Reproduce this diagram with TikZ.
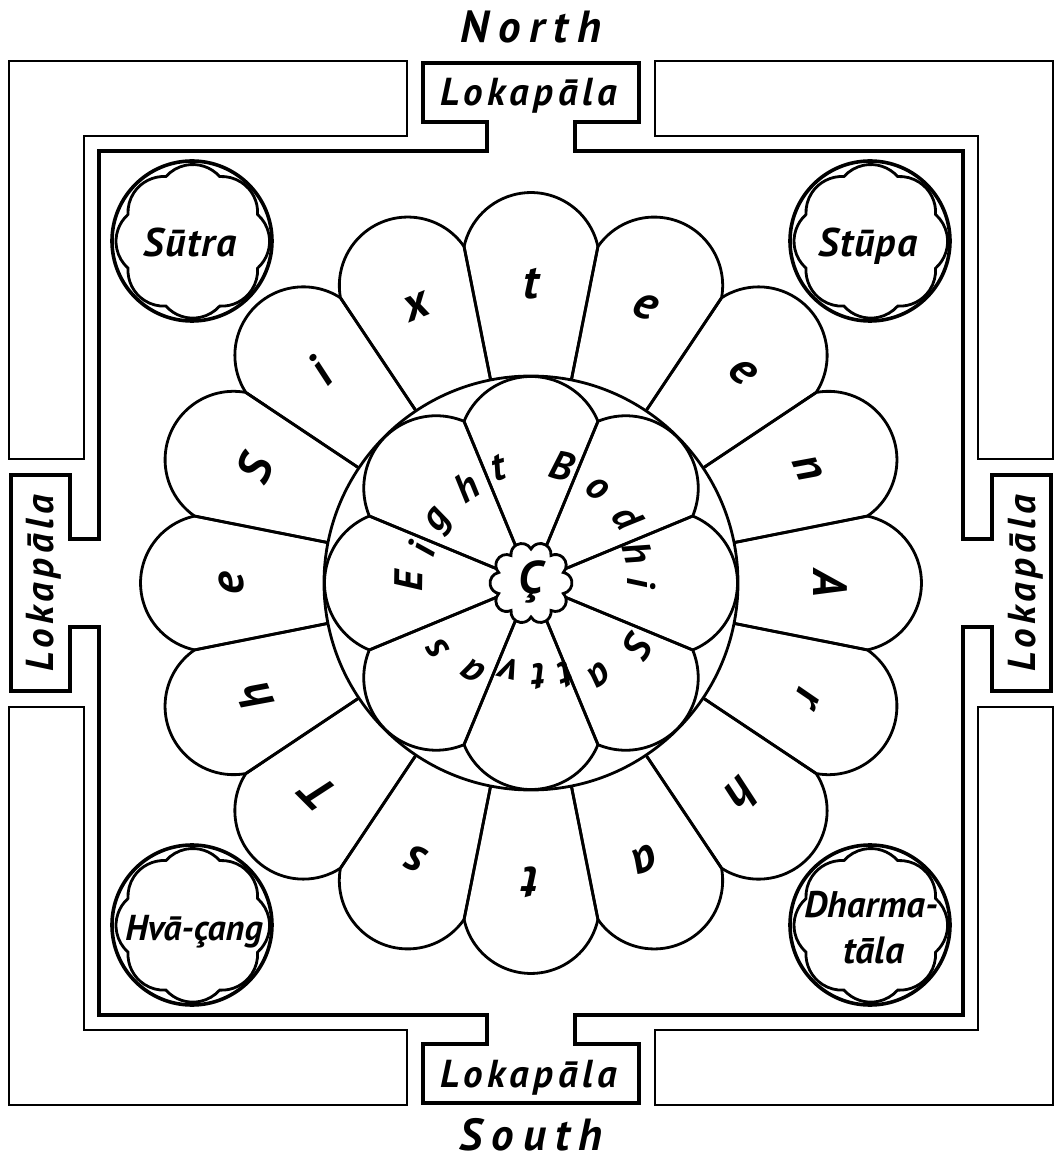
\documentclass[tikz,border=0pt]{standalone}
\usepackage{fontspec}
\setmainfont{PT Sans}
\usepackage{graphicx}
\usetikzlibrary{calc}
\newcommand\fz[1]{\fontsize{#1}{#1}\selectfont\bfseries\itshape}
\begin{document}
\begin{tikzpicture}[x=1pt,y=1pt,line join=miter,
  thickline/.style={line width=4.6pt},
  thinline/.style={line width=2.3pt},
  petal/.style={line width=2.8pt},
  ring/.style={line width=3.6pt},
  lobe/.style={line width=2.8pt},
  lbl/.style={inner sep=0pt,font=\fz{48}},
  inl/.style={inner sep=0pt,font=\fz{40}},
  loka/.style={inner sep=0pt,anchor=base,font={\fz{39}\addfontfeature{LetterSpace=12}}},
  cardinal/.style={inner sep=0pt,anchor=base,font={\fz{45}\addfontfeature{LetterSpace=20}}},
  corner/.style={inner sep=0pt,anchor=base,font={\fz{40}\addfontfeature{LetterSpace=3}}}
]
\fill[white] (-531,-578) rectangle (524,583);
\useasboundingbox (-531,-578) rectangle (524,583);

% ---------- thin L-shaped corner pieces ----------
\foreach \sx/\sy in {1/1,-1/1,1/-1,-1/-1}{
  \begin{scope}[xscale=\sx,yscale=\sy]
    \draw[thinline] (124,522) -- (124,447) -- (447,447) -- (447,124) -- (522,124) -- (522,522) -- cycle;
  \end{scope}
}

% ---------- thick inner square with the four gates ----------
\draw[thickline]
  (-432,432) -- (-44,432) -- (-44,461) -- (-108,461) -- (-108,520) -- (108,520) -- (108,461) -- (44,461) -- (44,432)
  -- (432,432) -- (432,44) -- (461,44) -- (461,108) -- (520,108) -- (520,-108) -- (461,-108) -- (461,-44) -- (432,-44)
  -- (432,-432) -- (44,-432) -- (44,-461) -- (108,-461) -- (108,-520) -- (-108,-520) -- (-108,-461) -- (-44,-461) -- (-44,-432)
  -- (-432,-432) -- (-432,-44) -- (-461,-44) -- (-461,-108) -- (-520,-108) -- (-520,108) -- (-461,108) -- (-461,44) -- (-432,44)
  -- cycle;

\node[loka] (lokN) at (-2,477) {Lokapāla};
\node[loka] (lokS) at (-2,-504) {Lokapāla};
\node[loka,rotate=90] (lokW) at (-477,0) {Lokapāla};
\node[loka,rotate=90] (lokE) at (504,0) {Lokapāla};

\node[cardinal] (north) at (0,540) {North};
\node[cardinal] (south) at (0,-567) {South};

% ---------- sixteen outer petals ----------
\foreach \k in {0,...,15}{
  \pgfmathsetmacro\t{90-22.5*\k}
  \draw[petal] (\t-11.25:207) -- (\t-11.25:343)
     arc[start angle=\t-77.85, end angle=\t+77.85, radius=68.45] -- (\t+11.25:207);
}
\draw[petal] (0,0) circle[radius=207];

% ---------- eight inner petals ----------
\foreach \k in {0,...,7}{
  \pgfmathsetmacro\t{90-45*\k}
  \draw[petal] (\t-22.5:34) -- (\t-22.5:175)
     arc[start angle=\t-67.59, end angle=\t+67.59, radius=72.44] -- (\t+22.5:34);
}

% ---------- central flower ----------
\draw[petal,fill=white] (-18:34)
  \foreach \k in {0,...,9}{ arc[start angle=\k*36-79.1, end angle=\k*36+79.1, radius=10.69] } -- cycle;
\node[inner sep=0pt,font=\fz{46}] (cc) at (0,1) {Ç};

% ---------- corner circles ----------
\foreach \cx/\cy/\nm in {-339/342/nw,339/342/ne,-339/-342/sw,339/-342/se}{
  \begin{scope}[shift={(\cx,\cy)}]
    \draw[ring] (0,0) circle[radius=80];
    \draw[lobe] (-22.5:71)
      \foreach \k in {0,...,7}{ arc[start angle=\k*45-48.2, end angle=\k*45+48.2, radius=36.0] } -- cycle;
  \end{scope}
}
\node[corner] (sutra) at (-341,326) {Sūtra};
\node[corner] (stupa) at (337,326) {Stūpa};
\node[corner,font={\fz{36}}] (hva) at (-337,-357) {Hvā-çang};
\node[corner,font={\fz{37}}] (dh1) at (340,-334) {Dharma-};
\node[corner,font={\fz{38}}] (dh2) at (343,-380) {tāla};

% ---------- outer letters ----------
\foreach \c/\a [count=\i] in {T/-135,h/-157.5,e/180,S/157.5,i/135,x/112.5,t/90,e/67.5,e/45,n/22.5,A/0,r/-22.5,h/-45,a/-67.5,t/-90,s/-112.5}{
  \node[lbl,rotate=\a-90] (o\i) at (\a:299) {\c};
}

% ---------- inner letters ----------
\foreach \c/\a/\r [count=\i] in {E/179/122,i/163/115,g/146/110,h/124/116,t/106/120,B/75/121,o/55/115,d/34/117,h/16/111,i/0/111,S/-30/124,a/-53/114,t/-69/98,t/-85/94,v/-104/89,a/-123/106,s/-145/114}{
  \node[inl,rotate=\a-90] (n\i) at (\a:\r) {\c};
}
\end{tikzpicture}
\end{document}
